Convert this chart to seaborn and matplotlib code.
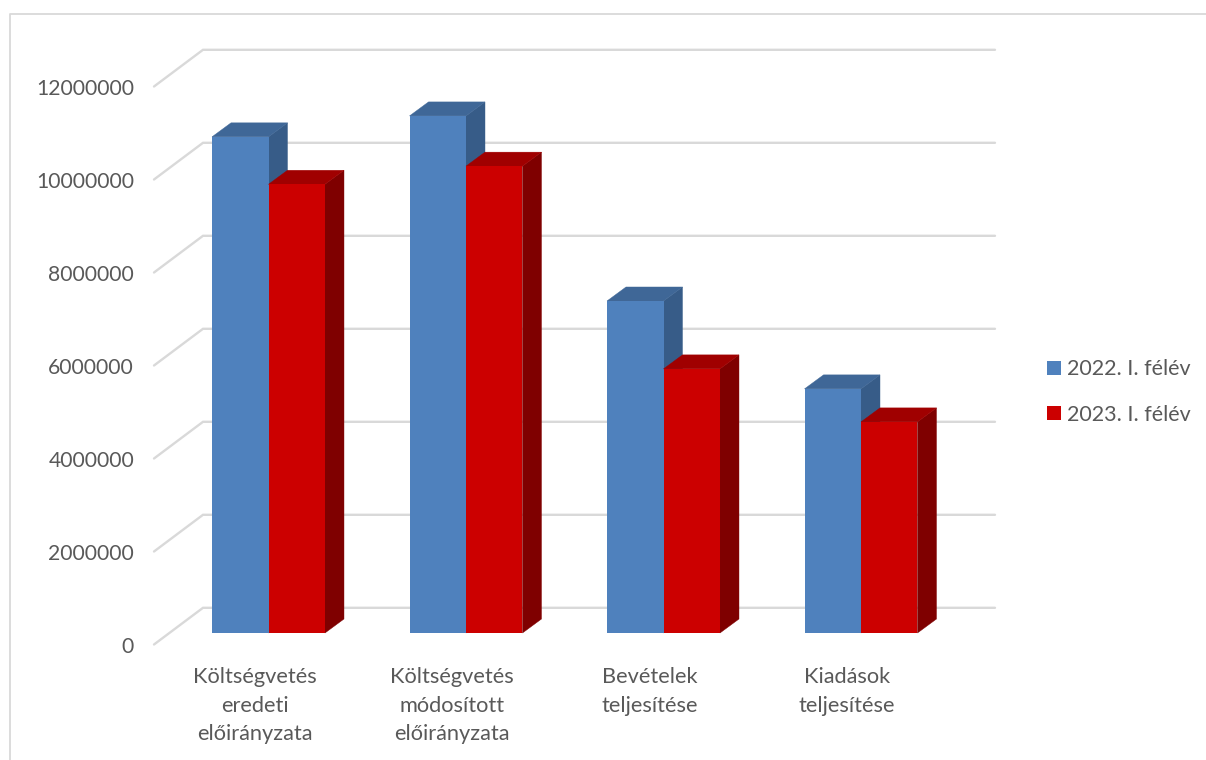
import matplotlib
matplotlib.use('Agg')
import matplotlib.pyplot as plt
import matplotlib.transforms as mtrans
from matplotlib.lines import Line2D
from matplotlib.patches import Polygon
import seaborn as sns
import pandas as pd

categories = ['Költségvetés\neredeti\nelőirányzata', 'Költségvetés\nmódosított\nelőirányzata',
              'Bevételek\nteljesítése', 'Kiadások\nteljesítése']
series_names = ['2022. I. félév', '2023. I. félév']
values_2022 = [10670000, 11120000, 7140000, 5250000]
values_2023 = [9650000, 10040000, 5680000, 4540000]
y_ticks = [0, 2000000, 4000000, 6000000, 8000000, 10000000, 12000000]

front_colors = ['#4F81BD', '#CC0000']
top_colors = ['#3F6797', '#A00000']
side_colors = ['#375C88', '#7F0000']
grid_color = '#D9D9D9'
text_color = '#595959'

W, H = 1206, 760
PX_X = 1 / 197.5        # category units per pixel
PX_Y = 2000000 / 93     # value units per pixel

sns.set_style('white')
plt.rcParams['font.family'] = ['Lato', 'DejaVu Sans']

df = pd.DataFrame({
    'category': categories * 2,
    'series': [series_names[0]] * 4 + [series_names[1]] * 4,
    'value': values_2022 + values_2023,
})

fig = plt.figure(figsize=(W / 100, H / 100), dpi=100)
ax = fig.add_axes([154 / W, 1 - 645 / H, (995 - 154) / W, (645 - 49) / H])

sns.barplot(data=df, x='category', y='value', hue='series', hue_order=series_names,
            palette=front_colors, width=0.572, gap=0, saturation=1, errorbar=None,
            linewidth=0, ax=ax)

ax.set_xlim((154 - 268.5) * PX_X, (995 - 268.5) * PX_X)
ax.set_ylim(-12 * PX_Y, (633 - 49) * PX_Y)
ax.set_xlabel('')
ax.set_ylabel('')
sns.despine(ax=ax, left=True, bottom=True)
ax.patch.set_alpha(0)

# back wall gridlines with the diagonal going to the front plane
x0 = ax.get_xlim()[0]
x1 = ax.get_xlim()[1]
for v in y_ticks:
    front_y = v - 11.5 * PX_Y
    back_y = v + 25.2 * PX_Y
    ax.add_line(Line2D([x0, x0 + 49 * PX_X, x1], [front_y, back_y, back_y], color=grid_color,
                       lw=1.7, zorder=1, clip_on=False, solid_joinstyle='miter'))

# depth of the bars
dx = 19 * PX_X
dy = 14 * PX_Y
for i, container in enumerate(ax.containers):
    base_z = 2 + 2 * i
    for bar in container:
        left = bar.get_x()
        right = left + bar.get_width()
        top = bar.get_height()
        bar.set_zorder(base_z + 1)
        ax.add_patch(Polygon([(right, 0), (right + dx, dy), (right + dx, top + dy), (right, top)],
                             closed=True, fc=side_colors[i], ec=side_colors[i], lw=0.3, zorder=base_z))
        ax.add_patch(Polygon([(left, top), (left + dx, top + dy), (right + dx, top + dy), (right, top)],
                             closed=True, fc=top_colors[i], ec=top_colors[i], lw=0.3, zorder=base_z))

# axis labels sit on the front plane, so they are shifted from the bars' plane
ax.set_yticks(y_ticks)
ax.set_yticklabels([str(v) for v in y_ticks])
ax.tick_params(axis='y', length=0, pad=14.4, labelsize=15.2, labelcolor=text_color)
ax.tick_params(axis='x', length=0, pad=16, labelsize=15.7, labelcolor=text_color)
y_shift = mtrans.ScaledTranslation(0, -12 / 100, fig.dpi_scale_trans)
x_shift = mtrans.ScaledTranslation(-14 / 100, 0, fig.dpi_scale_trans)
for label in ax.get_yticklabels():
    label.set_transform(label.get_transform() + y_shift)
for label in ax.get_xticklabels():
    label.set_transform(label.get_transform() + x_shift)
    label.set_linespacing(1.52)

sns.move_legend(ax, loc='center left', bbox_to_anchor=(1047 / W, 1 - 392 / H),
                bbox_transform=fig.transFigure, frameon=False, title=None, fontsize=15.5,
                labelspacing=1.17, handlelength=0.66, handleheight=0.66, handletextpad=0.28,
                labelcolor=text_color, borderpad=0, borderaxespad=0)

# chart frame
fig.add_artist(Line2D([10 / W, 10 / W, 1], [0, 1 - 14 / H, 1 - 14 / H], color=grid_color, lw=1.3))

fig.savefig('out.png', dpi=100)
